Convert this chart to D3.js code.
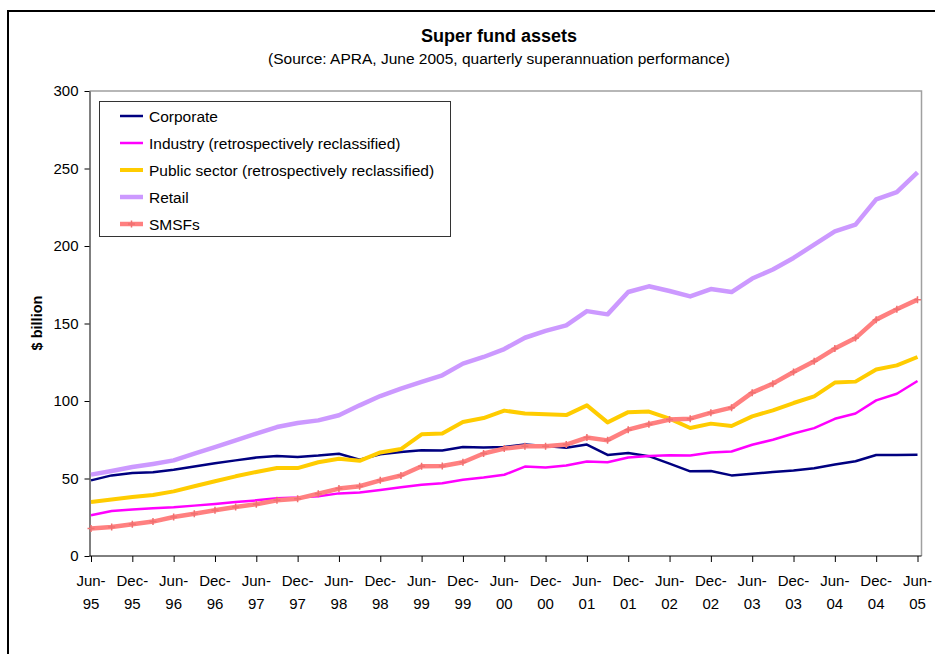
<!DOCTYPE html>
<html lang="en">
<head>
<meta charset="UTF-8" />
<title>Super fund assets</title>
<script src="https://d3js.org/d3.v7.min.js"></script>
<style>
    body { margin: 0; background: #fff; }
    svg { display: block; font-family: "Liberation Sans", Arial, sans-serif; }
</style>
</head>
<body>
<script>
    // quarters, Jun-95 .. Jun-05
    var quarters = ["Jun-95","Sep-95","Dec-95","Mar-96","Jun-96","Sep-96","Dec-96","Mar-97",
        "Jun-97","Sep-97","Dec-97","Mar-98","Jun-98","Sep-98","Dec-98","Mar-99",
        "Jun-99","Sep-99","Dec-99","Mar-00","Jun-00","Sep-00","Dec-00","Mar-01",
        "Jun-01","Sep-01","Dec-01","Mar-02","Jun-02","Sep-02","Dec-02","Mar-03",
        "Jun-03","Sep-03","Dec-03","Mar-04","Jun-04","Sep-04","Dec-04","Mar-05","Jun-05"];

    var corporate = [48.8, 52, 53.5, 54, 55.7, 57.8, 59.8, 61.7, 63.5, 64.5, 63.9,
        64.8, 66, 62.2, 65.6, 67.1, 68.2, 68, 70.3, 70, 70.3,
        71.9, 71, 69.9, 71.9, 65.2, 66.5, 64.4, 59.6, 54.6, 54.8,
        52, 53.1, 54.2, 55.1, 56.6, 59, 61.1, 65.2, 65.2, 65.3];

    var industry = [26.3, 29, 30, 30.8, 31.4, 32.5, 33.6, 34.8, 35.9, 37.2, 37.7,
        38.5, 40.4, 40.9, 42.6, 44.4, 45.9, 47, 49.2, 50.6, 52.4,
        57.7, 57.1, 58.4, 61, 60.5, 63.5, 64.5, 65, 64.8, 66.8,
        67.4, 71.8, 75, 79, 82.5, 88.5, 91.9, 100.4, 104.7, 112.9];

    var publicSector = [34.9, 36.4, 38, 39.4, 41.7, 45, 48.2, 51.4, 54.2, 56.8, 56.7,
        60.5, 62.8, 61.4, 66.8, 69, 78.5, 79, 86.5, 89, 93.8,
        91.9, 91.4, 90.9, 97.2, 86.2, 92.8, 93.2, 88.6, 82.6, 85.4,
        83.9, 90.1, 94, 98.7, 103, 111.9, 112.5, 120.3, 123, 128.4];

    var retail = [52.5, 54.8, 57.4, 59.4, 61.7, 66, 70.3, 74.6, 79, 83.2, 85.8,
        87.5, 90.8, 97.2, 103.2, 108, 112.3, 116.6, 124.1, 128.4, 133.5,
        140.8, 145.2, 148.8, 158, 155.9, 170.3, 174, 171, 167.5, 172.2,
        170.3, 179, 184.8, 192.3, 200.9, 209.5, 213.8, 230.1, 234.8, 247.5];

    var smsf = [17.7, 18.7, 20.5, 22.2, 25.2, 27.3, 29.5, 31.6, 33.4, 35.9, 37,
        40.2, 43.5, 45, 48.8, 51.9, 57.9, 58.1, 60.5, 66.1, 69.3,
        70.8, 70.8, 71.9, 76.4, 74.6, 81.5, 85, 88, 88.6, 92.5,
        95.7, 105.4, 111.2, 118.7, 125.6, 133.8, 140.6, 152.5, 159.2, 165.4];

    var seriesNames = ["Corporate", "Industry (retrospectively reclassified)",
        "Public sector (retrospectively reclassified)", "Retail", "SMSFs"];
    var seriesValues = [corporate, industry, publicSector, retail, smsf];
    var seriesColors = ["#000080", "#FF00FF", "#FFCC00", "#CC99FF", "#FF8080"];
    var seriesWidths = [2.5, 2.5, 4, 4.5, 4.5];

    var yTicks = [0, 50, 100, 150, 200, 250, 300];

    var w = 935;
    var h = 654;
    // plot area edges (note: "top" is reserved on window, so use plot*)
    var plotLeft = 89.5, plotRight = 921.5, plotTop = 91, plotBottom = 556;

    var svg = d3.select("body")
        .append("svg")
        .attr("width", w)
        .attr("height", h);

    // outer chart frame (runs off the right and bottom)
    svg.append("rect")
        .attr("x", 8)
        .attr("y", 11)
        .attr("width", 1000)
        .attr("height", 1000)
        .attr("fill", "none")
        .attr("stroke", "#000")
        .attr("stroke-width", 2);

    // Scales
    var xScale = d3.scalePoint()
        .domain(d3.range(quarters.length))
        .range([91, 917.5]);

    var yScale = d3.scaleLinear()
        .domain([0, 300])
        .range([plotBottom, plotTop]);

    // plot area border (grey top and right)
    svg.append("path")
        .attr("d", "M" + plotLeft + "," + plotTop + "H" + plotRight + "V" + plotBottom)
        .attr("fill", "none")
        .attr("stroke", "#a0a0a0")
        .attr("stroke-width", 1.5);

    // Y axis
    var yAxis = d3.axisLeft(yScale)
        .tickValues(yTicks)
        .tickSize(5)
        .tickSizeOuter(0)
        .tickPadding(6);

    var gy = svg.append("g")
        .attr("transform", "translate(" + plotLeft + ",0)")
        .call(yAxis);
    gy.selectAll("text").attr("font-size", 15).attr("fill", "#000")
        .attr("font-family", "Liberation Sans, Arial, sans-serif");
    gy.selectAll("line, path").attr("stroke", "#000");

    // X axis, a label every two quarters
    var tickIdx = d3.range(0, quarters.length, 2);
    var xAxis = d3.axisBottom(xScale)
        .tickValues(tickIdx)
        .tickSize(6)
        .tickSizeOuter(0)
        .tickFormat("");

    var gx = svg.append("g")
        .attr("transform", "translate(0," + plotBottom + ")")
        .call(xAxis);
    gx.select(".domain").attr("d", "M" + plotLeft + ",0H" + plotRight);
    gx.selectAll("line, path").attr("stroke", "#000");

    var xl = svg.append("g")
        .selectAll("text")
        .data(tickIdx)
        .enter()
        .append("text")
        .attr("text-anchor", "middle")
        .attr("font-size", 15)
        .attr("fill", "#000");
    xl.append("tspan")
        .attr("x", function(d) { return xScale(d); })
        .attr("y", 586)
        .text(function(d) { return quarters[d].split("-")[0] + "-"; });
    xl.append("tspan")
        .attr("x", function(d) { return xScale(d); })
        .attr("y", 609)
        .text(function(d) { return quarters[d].split("-")[1]; });

    // Lines
    var line = d3.line()
        .x(function(d, i) { return xScale(i); })
        .y(function(d) { return yScale(d); });

    seriesValues.forEach(function(vals, k) {
        svg.append("path")
            .datum(vals)
            .attr("d", line)
            .attr("fill", "none")
            .attr("stroke", seriesColors[k])
            .attr("stroke-width", seriesWidths[k])
            .attr("stroke-linejoin", "round");
    });

    // SMSF markers
    svg.append("g")
        .selectAll("path")
        .data(smsf)
        .enter()
        .append("path")
        .attr("transform", function(d, i) {
            return "translate(" + xScale(i) + "," + yScale(d) + ")";
        })
        .attr("d", "M-3.5,0H3.5M0,-3.5V3.5")
        .attr("stroke", "#F07070")
        .attr("stroke-width", 1.5);

    // Legend
    var legend = svg.append("g");
    legend.append("rect")
        .attr("x", 99.5)
        .attr("y", 101.5)
        .attr("width", 351)
        .attr("height", 135)
        .attr("fill", "#fff")
        .attr("stroke", "#333")
        .attr("stroke-width", 1);

    seriesNames.forEach(function(name, k) {
        var ly = 116 + k * 27;
        legend.append("line")
            .attr("x1", 120)
            .attr("x2", 143)
            .attr("y1", ly)
            .attr("y2", ly)
            .attr("stroke", seriesColors[k])
            .attr("stroke-width", seriesWidths[k]);
        if (k === 4) {
            legend.append("path")
                .attr("transform", "translate(131.5," + ly + ")")
                .attr("d", "M-3.5,0H3.5M0,-3.5V3.5")
                .attr("stroke", "#F07070")
                .attr("stroke-width", 1.5);
        }
        legend.append("text")
            .attr("x", 149)
            .attr("y", ly + 5.5)
            .attr("font-size", 15.5)
            .text(name);
    });

    // Titles
    svg.append("text")
        .attr("x", 499)
        .attr("y", 42)
        .attr("text-anchor", "middle")
        .attr("font-size", 18)
        .attr("font-weight", "bold")
        .text("Super fund assets");

    svg.append("text")
        .attr("x", 499)
        .attr("y", 64)
        .attr("text-anchor", "middle")
        .attr("font-size", 15.5)
        .text("(Source: APRA, June 2005, quarterly superannuation performance)");

    svg.append("text")
        .attr("transform", "translate(42,323) rotate(-90)")
        .attr("text-anchor", "middle")
        .attr("font-size", 14.5)
        .attr("font-weight", "bold")
        .text("$ billion");
</script>
</body>
</html>
